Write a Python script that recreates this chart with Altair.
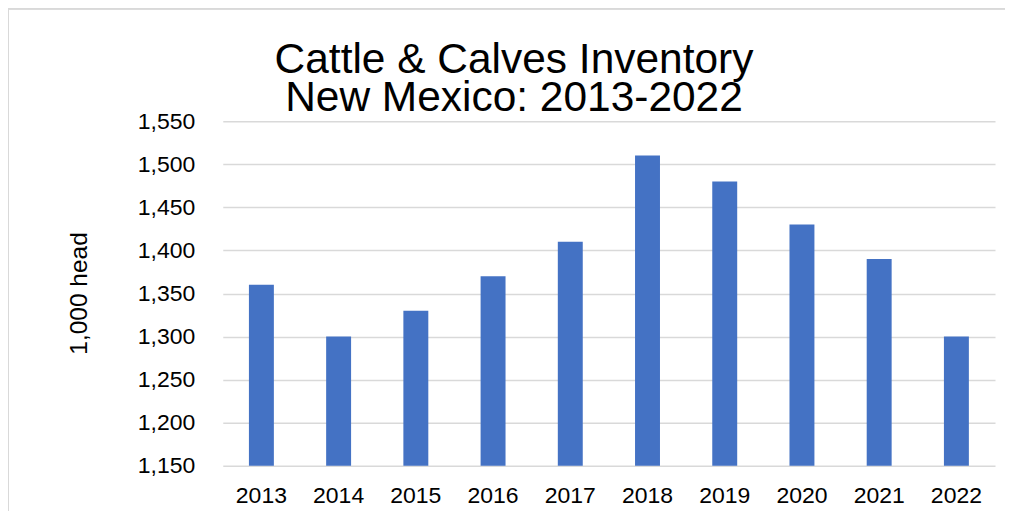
import altair as alt
import pandas as pd

years = ["2013", "2014", "2015", "2016", "2017", "2018", "2019", "2020", "2021", "2022"]
inventory = [1360, 1300, 1330, 1370, 1410, 1510, 1480, 1430, 1390, 1300]
y_ticks = [1150, 1200, 1250, 1300, 1350, 1400, 1450, 1500, 1550]

df = pd.DataFrame({"year": years, "head": inventory})
FONT = "Liberation Sans"

bars = alt.Chart(df).mark_bar(color="#4472C4", clip=True).encode(
    x=alt.X("year:N", sort=years,
            scale=alt.Scale(paddingInner=0.677, paddingOuter=0.3385),
            axis=alt.Axis(title=None, labelAngle=0, domain=False, ticks=False,
                          labelPadding=19, labelFontSize=23, labelFont=FONT,
                          labelColor="#000000")),
    y=alt.Y("head:Q",
            scale=alt.Scale(domain=[1150, 1550], zero=False, nice=False),
            axis=alt.Axis(title="1,000 head", values=y_ticks, format=",d",
                          domain=False, ticks=False, labelPadding=28,
                          labelFontSize=23, labelFont=FONT, labelColor="#000000",
                          gridColor="#D9D9D9", gridWidth=1.5,
                          titleFont=FONT, titleFontSize=24.5, titleFontWeight="normal",
                          titleColor="#000000", titleAngle=270, titleX=-143, titleY=172,
                          titleAlign="center", titleBaseline="middle")),
)

border = alt.Chart(df).mark_rect(fill=None, stroke="#D9D9D9", strokeWidth=2).encode(
    x=alt.value(-215), x2=alt.value(900), y=alt.value(-113), y2=alt.value(500)
)

chart = alt.layer(border, bars).properties(
    width=773,
    height=345,
    autosize=alt.AutoSizeParams(type="none"),
    padding={"left": 215, "top": 113, "right": 10, "bottom": 45},
    title=alt.TitleParams(text=["Cattle & Calves Inventory", "New Mexico: 2013-2022"],
                          font=FONT, fontSize=42.5, fontWeight="normal", color="#000000",
                          anchor="middle", frame="group", dx=-95, dy=116, lineHeight=38),
).configure_view(stroke=None)

chart.save("out.html", embed_options={"renderer": "svg", "actions": False})
